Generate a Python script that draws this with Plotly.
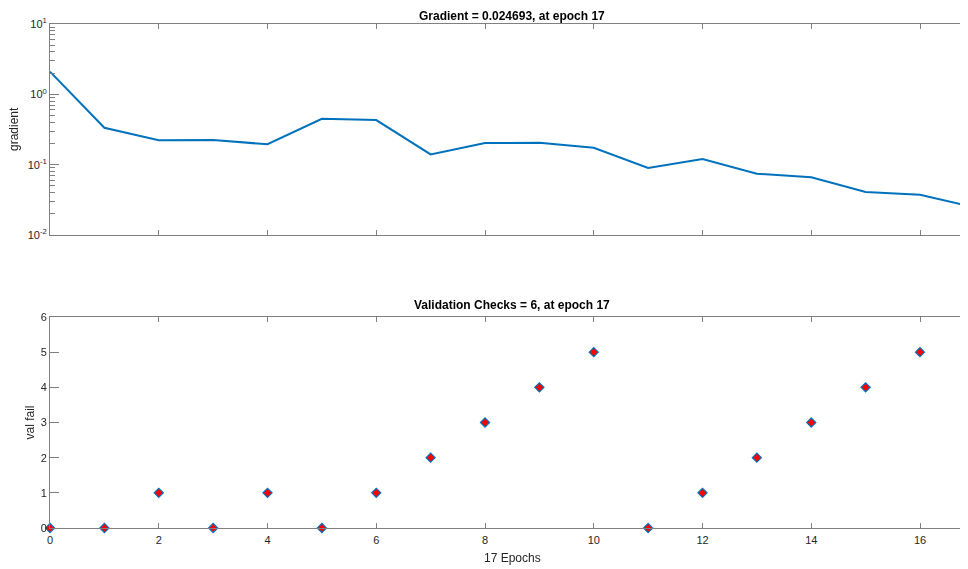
import plotly.graph_objects as go

epochs = list(range(18))
gradient = [2.10, 0.335, 0.222, 0.224, 0.195, 0.450, 0.431, 0.140, 0.203, 0.205,
            0.174, 0.0900, 0.120, 0.0743, 0.0660, 0.0408, 0.0373, 0.024693]
val_fail = [0, 0, 1, 0, 1, 0, 1, 2, 3, 4, 5, 0, 1, 2, 3, 4, 5, 6]

x_ticks = [0, 2, 4, 6, 8, 10, 12, 14, 16]
log_tickvals = [0.01, 0.1, 1, 10]
log_ticktext = ["10<sup>-2</sup>", "10<sup>-1</sup>", "10<sup>0</sup>", "10<sup>1</sup>"]
val_ticks = [0, 1, 2, 3, 4, 5, 6]

title_top = "Gradient = 0.024693, at epoch 17"
title_bot = "Validation Checks = 6, at epoch 17"
xlabel = "17 Epochs"
ylabel_top = "gradient"
ylabel_bot = "val fail"

OFF = 8                 # page body margin of the html page
W, H = 968 - OFF, 569 - OFF
L = 50 - OFF
px_per_epoch = 54.375
xmax = (W - L) / px_per_epoch


def pf(y):  # reference pixel row -> paper fraction
    return 1 - (y - OFF) / H


def pxf(x):  # reference pixel column -> paper fraction
    return (x - OFF - L) / (W - L)


AX = "#808080"
TXT = "#262626"
FONT = "Liberation Sans, Arial, Helvetica, sans-serif"
BLUE = "#0072BD"

fig = go.Figure()

fig.add_trace(go.Scatter(x=epochs, y=gradient, mode="lines",
                         line=dict(color=BLUE, width=2), xaxis="x", yaxis="y",
                         showlegend=False, hoverinfo="x+y"))
fig.add_trace(go.Scatter(x=epochs, y=gradient, mode="lines", opacity=0,
                         xaxis="x", yaxis="y3", showlegend=False, hoverinfo="skip"))
fig.add_trace(go.Scatter(x=epochs, y=val_fail, mode="markers",
                         marker=dict(symbol="diamond", size=7, color="red",
                                     line=dict(color=BLUE, width=1.2)),
                         cliponaxis=False, xaxis="x2", yaxis="y2",
                         showlegend=False, hoverinfo="x+y"))
fig.add_trace(go.Scatter(x=epochs, y=val_fail, mode="markers", opacity=0,
                         xaxis="x2", yaxis="y4", showlegend=False, hoverinfo="skip"))

xcommon = dict(range=[0, xmax], tickvals=x_ticks, ticks="inside", ticklen=5,
               tickcolor=AX, showline=True, linecolor=AX, linewidth=1,
               mirror="ticks", showgrid=False, zeroline=False,
               tickfont=dict(size=11, color=TXT, family=FONT), automargin=False)

top_dom = [pf(235), pf(24)]
bot_dom = [pf(528), pf(317)]

fig.update_layout(
    width=W, height=H,
    margin=dict(l=L, r=0, t=0, b=0),
    paper_bgcolor="white", plot_bgcolor="white",
    font=dict(family=FONT, color=TXT, size=11),
    xaxis=dict(xcommon, domain=[0, 1], anchor="y", showticklabels=False),
    yaxis=dict(type="log", range=[-2, 1], domain=top_dom, anchor="x",
               tickvals=log_tickvals, ticktext=log_ticktext,
               ticks="inside", ticklen=9, tickcolor=AX,
               minor=dict(ticks="inside", ticklen=5, tickcolor=AX, dtick="D1", showgrid=False),
               showline=True, linecolor=AX, linewidth=1, showgrid=False,
               zeroline=False, tickfont=dict(size=11, color=TXT, family=FONT),
               automargin=False),
    yaxis3=dict(type="log", range=[-2, 1], overlaying="y", side="right", anchor="x",
                tickvals=log_tickvals, ticks="inside", ticklen=3, tickcolor=AX,
                showticklabels=False, showline=False, showgrid=False, zeroline=False),
    xaxis2=dict(xcommon, domain=[0, 1], anchor="y2", showticklabels=True,
                ticklabelstandoff=2),
    yaxis2=dict(range=[0, 6], domain=bot_dom, anchor="x2", tickvals=val_ticks,
                ticks="inside", ticklen=9, tickcolor=AX,
                showline=True, linecolor=AX, linewidth=1, showgrid=False,
                zeroline=False, tickfont=dict(size=11, color=TXT, family=FONT),
                automargin=False),
    yaxis4=dict(range=[0, 6], overlaying="y2", side="right", anchor="x2",
                tickvals=val_ticks, ticks="inside", ticklen=3, tickcolor=AX,
                showticklabels=False, showline=False, showgrid=False, zeroline=False),
)

ann_font = dict(family=FONT, color=TXT)
fig.add_annotation(text="<b>" + title_top + "</b>", x=8.5, xref="x", y=1.0, yref="paper",
                   showarrow=False, xanchor="center", yanchor="top", borderpad=0,
                   font=dict(ann_font, size=12, color="#000000"))
fig.add_annotation(text="<b>" + title_bot + "</b>", x=8.5, xref="x2", y=pf(305), yref="paper",
                   showarrow=False, xanchor="center", yanchor="middle",
                   font=dict(ann_font, size=12, color="#000000"))
fig.add_annotation(text=xlabel, x=8.5, xref="x2", y=pf(558), yref="paper",
                   showarrow=False, xanchor="center", yanchor="middle",
                   font=dict(ann_font, size=12))
fig.add_annotation(text=ylabel_top, x=pxf(14.5), xref="paper", y=pf(129.5), yref="paper",
                   showarrow=False, textangle=-90, xanchor="center", yanchor="middle",
                   font=dict(ann_font, size=12))
fig.add_annotation(text=ylabel_bot, x=pxf(29), xref="paper", y=pf(422.5), yref="paper",
                   showarrow=False, textangle=-90, xanchor="center", yanchor="middle",
                   font=dict(ann_font, size=12))

fig.write_html("out.html")
